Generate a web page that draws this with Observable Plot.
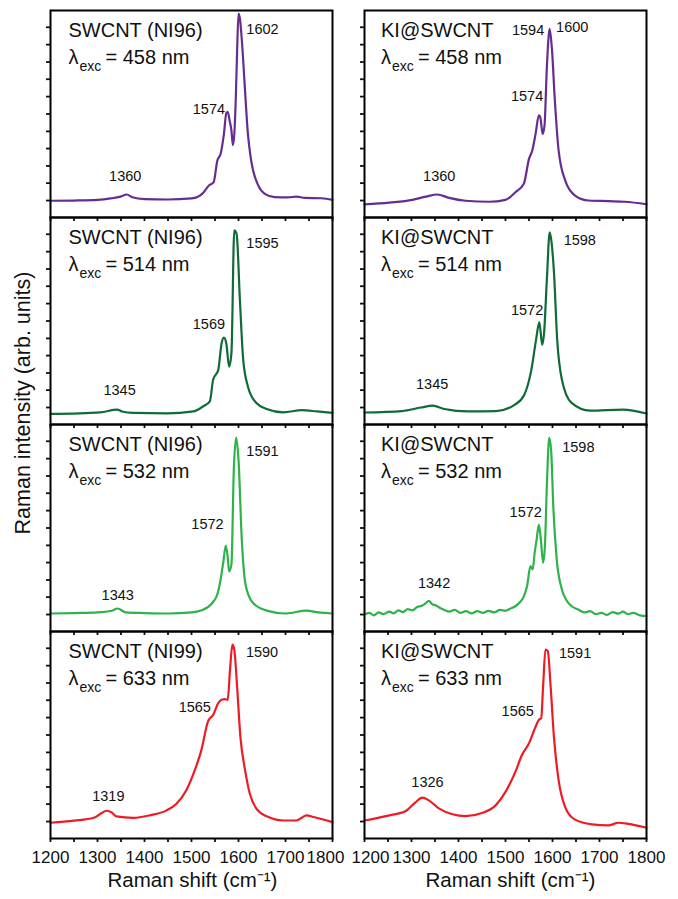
<!DOCTYPE html>
<html>
<head>
<meta charset="utf-8">
<script src="https://cdn.jsdelivr.net/npm/d3@7"></script>
<script src="https://cdn.jsdelivr.net/npm/@observablehq/plot@0.6"></script>
<style>
  html, body { margin: 0; padding: 0; background: #ffffff; }
  #chart { width: 678px; height: 899px; }
  #chart svg { display: block; }
</style>
</head>
<body>
<div id="chart"></div>
<script>
// ---------- categories ----------
const columns = ["SWCNT", "KI"];
const rows = [0, 1, 2, 3];
const samplesSWCNT = ["SWCNT (NI96)", "SWCNT (NI96)", "SWCNT (NI96)", "SWCNT (NI99)"];
const samplesKI = ["KI@SWCNT", "KI@SWCNT", "KI@SWCNT", "KI@SWCNT"];
const wavelengths = ["458 nm", "514 nm", "532 nm", "633 nm"];
const lineColors = ["#662d91", "#0f6b37", "#2db34a", "#ed1c24"];

// ---------- tick values ----------
const xTicks = [1200, 1250, 1300, 1350, 1400, 1450, 1500, 1550, 1600, 1650, 1700, 1750, 1800];
const xTickLabels = [1200, 1300, 1400, 1500, 1600, 1700, 1800];
const yTicks = [8.2, 16.6, 24.9, 33.3, 41.6, 50.0, 58.4, 66.8, 75.1, 83.5, 91.9];

// ---------- spectra: [Raman shift (cm-1), intensity (arb. units, 0-100 of panel)] ----------
const swcnt458 = [[1200,8.1],[1250,8.2],[1300,8.5],[1328,9.2],[1349,10.1],[1362,11.1],[1374,9.8],[1400,8.9],[1450,8.7],[1500,9.2],[1518,10.6],[1526,12.2],[1537,15.5],[1547,17],[1555,27.5],[1562,30.8],[1569,40.4],[1574,50.4],[1577,51],[1581,47],[1585,42],[1588,35],[1591,40],[1594,56],[1597,80],[1600,98.5],[1603,96],[1607,86],[1613,64.7],[1620,40.4],[1627,27.5],[1642,15.5],[1656,11.4],[1677,9.8],[1705,9.7],[1723,10.1],[1741,9.5],[1777,9.3],[1800,8.5]];
const ki458 = [[1200,6.3],[1253,7.2],[1302,8.5],[1331,10.1],[1355,11.1],[1380,9.5],[1415,8.1],[1465,7.6],[1500,8.5],[1521,12.2],[1539,16.3],[1550,28.3],[1557,32.4],[1564,40.4],[1571,49.3],[1574,48.5],[1579,40.4],[1583,44.4],[1588,72.6],[1594,91.1],[1599,80.7],[1605,56.5],[1613,32.4],[1627,17.9],[1648,10.6],[1677,8.2],[1719,7.9],[1754,7.6],[1800,6.4]];
const swcnt514 = [[1200,5.1],[1306,5.9],[1342,7.2],[1352,6.3],[1376,5.6],[1447,5.4],[1504,6.3],[1525,8.8],[1539,11.2],[1546,21.6],[1557,26.4],[1564,39.3],[1569,42],[1574,39.3],[1580,28],[1585,34.5],[1591,93.8],[1596,92.1],[1603,60],[1610,31.3],[1620,18.4],[1638,10.4],[1660,7.5],[1695,5.9],[1735,6.9],[1767,6.3],[1800,5.6]];
const ki514 = [[1200,5.8],[1280,6.5],[1320,8.2],[1345,9.1],[1370,7.5],[1420,6.3],[1480,6.5],[1520,9.6],[1540,14.4],[1555,26.4],[1565,40.9],[1572,49.5],[1578,38.5],[1582,44],[1588,70],[1594,92.8],[1598,88],[1603,74],[1610,40.9],[1620,21.6],[1640,10.6],[1680,6.7],[1750,7.2],[1800,5.3]];
const swcnt532 = [[1200,8.7],[1250,8.9],[1300,9.2],[1330,10],[1343,11.1],[1360,9.2],[1400,8.9],[1450,8.7],[1500,9.2],[1520,10.1],[1545,14],[1555,18],[1560,22.7],[1567,32.4],[1573,41.5],[1577,36],[1580,29],[1585,32.4],[1590,78],[1595,93.7],[1600,83],[1607,44.4],[1615,22.7],[1630,14],[1660,10.1],[1700,8.7],[1745,10.1],[1770,9.2],[1800,8.7]];
const ki532 = [[1200,8.2],[1210,9],[1220,7.8],[1230,9.2],[1240,8.4],[1253,9.6],[1262,8.8],[1272,10.2],[1282,9.4],[1292,10.8],[1302,10.2],[1312,11.8],[1322,12.4],[1330,13.6],[1337,14.8],[1343,13.4],[1352,12.6],[1362,11.2],[1370,10.4],[1380,9.6],[1392,10.4],[1404,9],[1416,9.8],[1428,8.8],[1440,9.8],[1452,9],[1464,10],[1476,9.2],[1488,10.4],[1500,10],[1510,11],[1521,12.2],[1530,14],[1539,17],[1546,22],[1553,31.6],[1558,30],[1562,38],[1566,44],[1571,51.7],[1575,45],[1580,33.2],[1584,42],[1588,70.2],[1593,93.6],[1597,87.9],[1602,58.9],[1609,34.8],[1620,20.3],[1630,15],[1641,12.2],[1655,10.6],[1668,9.2],[1680,9.8],[1692,8.4],[1704,9],[1716,8],[1728,9.4],[1740,8.6],[1750,9.6],[1760,8.4],[1772,9],[1786,7.8],[1800,7.4]];
const swcnt633 = [[1200,7.6],[1250,8.6],[1292,10],[1309,12.3],[1319,13.4],[1330,12.6],[1340,10.7],[1376,10],[1411,11.2],[1447,13.6],[1468,16.8],[1489,23.3],[1507,33],[1521,42.7],[1535,56.5],[1546,59.7],[1557,65.4],[1564,67],[1571,67.3],[1577,67],[1582,81.6],[1587,93.7],[1591,91.3],[1597,73.5],[1604,49.2],[1614,33],[1624,21.7],[1638,14.4],[1660,10.7],[1695,8.7],[1723,8.7],[1745,11.2],[1759,10.4],[1780,9.2],[1800,7.9]];
const ki633 = [[1200,8.7],[1253,11.2],[1288,13.3],[1309,17.6],[1323,19.7],[1337,18.4],[1359,14.4],[1387,11.7],[1415,10.8],[1450,12.3],[1479,16],[1500,22.5],[1521,32.2],[1535,40.3],[1550,46],[1564,54],[1571,57.3],[1576,58.1],[1580,73.5],[1585,91.3],[1590,90.5],[1596,73.5],[1603,49.2],[1613,28.2],[1627,15.2],[1648,9.1],[1684,6.8],[1719,6.3],[1740,7.6],[1761,7.1],[1800,5.2]];

// ---------- peak labels: [label, x (cm-1), y (intensity)] ----------
const peaksSWCNT458 = [["1602",1651,90.7],["1574",1537,52.2],["1360",1359,19.8]];
const peaksKI458    = [["1594",1548,90.3],["1600",1642,91.9],["1574",1546,58.5],["1360",1359,19.8]];
const peaksSWCNT514 = [["1595",1651,87.7],["1569",1537,48.6],["1345",1347,16.6]];
const peaksKI514    = [["1598",1658,88.9],["1572",1546,55.3],["1345",1344,19.2]];
const peaksSWCNT532 = [["1591",1651,87.0],["1572",1534,51.7],["1343",1343,17.4]];
const peaksKI532    = [["1598",1655,89.1],["1572",1543,57.7],["1342",1348,23.2]];
const peaksSWCNT633 = [["1590",1650,89.9],["1565",1507,63.3],["1319",1323,20.4]];
const peaksKI633    = [["1591",1648,89.3],["1565",1526,61.3],["1326",1334,26.9]];

// ---------- build tables ----------
const spectraSWCNT = [swcnt458, swcnt514, swcnt532, swcnt633];
const spectraKI = [ki458, ki514, ki532, ki633];
const peaksSWCNT = [peaksSWCNT458, peaksSWCNT514, peaksSWCNT532, peaksSWCNT633];
const peaksKI = [peaksKI458, peaksKI514, peaksKI532, peaksKI633];

const lineRows = [];
const labelRows = [];
const titleRows = [];
rows.forEach(r => {
  [["SWCNT", spectraSWCNT[r], peaksSWCNT[r], samplesSWCNT[r]],
   ["KI", spectraKI[r], peaksKI[r], samplesKI[r]]].forEach(([col, spec, peaks, sample]) => {
    spec.forEach(([s, v]) => lineRows.push({fx: col, fy: r, id: col + r, shift: s, intensity: v, color: lineColors[r]}));
    peaks.forEach(([t, s, v]) => labelRows.push({fx: col, fy: r, shift: s, intensity: v, text: t}));
    titleRows.push({fx: col, fy: r, sample, wl: wavelengths[r]});
  });
});

const tickLabelRows = [];
columns.forEach(col => xTickLabels.forEach(v => tickLabelRows.push({fx: col, fy: 3, v})));

const FONT = "'Liberation Sans', Arial, Helvetica, sans-serif";

function titleMarks(col, dx) {
  const d = titleRows.filter(t => t.fx === col);
  const common = {fx: "fx", fy: "fy", frameAnchor: "top-left", textAnchor: "start", lineAnchor: "top", fill: "#111"};
  return [
    Plot.text(d, {...common, text: "sample", dx, dy: 12.5, fontSize: 20}),
    Plot.text(d, {...common, text: () => "λ", dx, dy: 39.5, fontSize: 20}),
    Plot.text(d, {...common, text: () => "exc", dx: dx + 11, dy: 51, fontSize: 14}),
    Plot.text(d, {...common, text: t => "= " + t.wl, dx: dx + 37, dy: 39.5, fontSize: 20})
  ];
}

const tickLabelCommon = {fx: "fx", fy: "fy", x: "v", text: t => String(t.v), frameAnchor: "bottom", lineAnchor: "middle", dy: 19, fontSize: 17, fill: "#111"};

const chart = Plot.plot({
  width: 678,
  height: 899,
  marginTop: 10,
  marginBottom: 61,
  marginLeft: 50,
  marginRight: 31,
  style: {fontFamily: FONT, fontSize: "16px", color: "#111", background: "#fff"},
  fx: {domain: columns, paddingInner: 0.1018, paddingOuter: 0, axis: null, label: null},
  fy: {domain: rows, padding: 0, paddingInner: 0, paddingOuter: 0, axis: null, label: null},
  x: {domain: [1200, 1800]},
  y: {domain: [0, 100]},
  color: {type: "identity"},
  marks: [
    Plot.line(lineRows, {fx: "fx", fy: "fy", x: "shift", y: "intensity", z: "id", stroke: "color", strokeWidth: 2.2, curve: "monotone-x"}),
    Plot.axisX({ticks: xTicks, tickSize: 4, tickFormat: () => "", label: null, facetAnchor: null, strokeWidth: 1.8}),
    Plot.axisY({ticks: yTicks, tickSize: 4, tickFormat: () => "", label: null, facetAnchor: null, strokeWidth: 1.8}),
    Plot.frame({stroke: "#000", strokeWidth: 2}),
    Plot.text(labelRows, {fx: "fx", fy: "fy", x: "shift", y: "intensity", text: "text", fontSize: 14.5, fill: "#111"}),
    ...titleMarks("SWCNT", 18),
    ...titleMarks("KI", 16.5),
    Plot.text(tickLabelRows.filter(t => !((t.fx === "SWCNT" && t.v === 1800) || (t.fx === "KI" && t.v === 1200))), tickLabelCommon),
    Plot.text(tickLabelRows.filter(t => t.fx === "SWCNT" && t.v === 1800), {...tickLabelCommon, dx: -7}),
    Plot.text(tickLabelRows.filter(t => t.fx === "KI" && t.v === 1200), {...tickLabelCommon, dx: 6}),
    Plot.text([{fx: "SWCNT", fy: 3}], {fx: "fx", fy: "fy", frameAnchor: "bottom", lineAnchor: "middle", dy: 42, dx: 1, text: () => "Raman shift (cm⁻¹)", fontSize: 20.5, fill: "#111"}),
    Plot.text([{fx: "KI", fy: 3}], {fx: "fx", fy: "fy", frameAnchor: "bottom", lineAnchor: "middle", dy: 42, dx: 5, text: () => "Raman shift (cm⁻¹)", fontSize: 20.5, fill: "#111"}),
    Plot.text([{fx: "SWCNT", fy: 1}], {fx: "fx", fy: "fy", frameAnchor: "left", textAnchor: "middle", lineAnchor: "middle", dx: -27, dy: 82, rotate: -90, text: () => "Raman intensity (arb. units)", fontSize: 21.5, fill: "#111"})
  ]
});

document.getElementById("chart").appendChild(chart);
</script>
</body>
</html>
